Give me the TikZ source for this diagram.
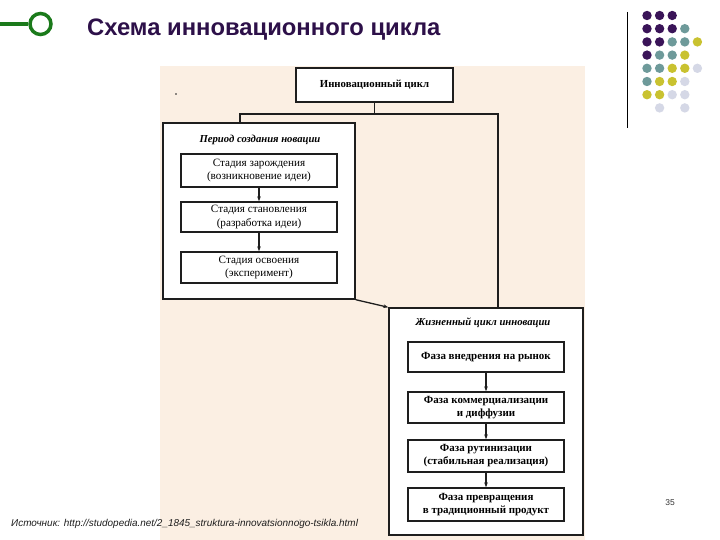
\documentclass[tikz,border=0pt]{standalone}
\usepackage{fontspec}
\setmainfont{Liberation Serif}
\newfontfamily\sansf{Liberation Sans}
\usetikzlibrary{arrows.meta}
\definecolor{beige}{HTML}{FBEFE3}
\definecolor{titlecol}{HTML}{2D1049}
\definecolor{logogreen}{HTML}{1B7A1B}
\definecolor{dotP}{HTML}{3A1458}
\definecolor{dotT}{HTML}{6E9A9A}
\definecolor{dotY}{HTML}{C9C230}
\definecolor{dotL}{HTML}{D5D8E6}
\definecolor{ink}{HTML}{1E1E1E}
\tikzset{
  frame/.style={draw=ink, line width=1.4bp, fill=white, inner sep=0pt},
  stagebox/.style={frame, align=center, minimum width=156bp, font=\fontsize{11.2}{13.5}\selectfont},
  phasebox/.style={frame, align=center, minimum width=156bp, font=\bfseries\fontsize{11}{13}\selectfont},
  boxtitle/.style={font=\bfseries\itshape\fontsize{10.7}{12}\selectfont, inner sep=0pt},
  link/.style={draw=ink, line width=1.3bp},
  flow/.style={link, -{Stealth[length=5bp,width=3.6bp]}},
  dot/.style={inner sep=0pt, minimum size=9.4bp, circle}
}
\begin{document}
\begin{tikzpicture}[x=1bp,y=-1bp]
\useasboundingbox[fill=white] (0,0) rectangle (720,540);
% logo
\coordinate (lg0) at (0,24);
\node[draw=logogreen, line width=3.5bp, circle, minimum size=21bp, inner sep=0pt, fill=white] (logo) at (40.5,24) {};
\draw[draw=logogreen, line width=3.5bp] (lg0) -- (logo.west);
% title
\node[anchor=base west, inner sep=0pt, text=titlecol, font=\sansf\bfseries\fontsize{23.9}{28}\selectfont] (title) at (87,36) {Схема инновационного цикла};
% right vertical rule
\coordinate (r0) at (627,12);
\coordinate (r1) at (627,128);
\draw[line width=1bp, black] (r0) -- (r1);
% dots
\foreach \c/\x/\y in {
  dotP/0/0, dotP/1/0, dotP/2/0,
  dotP/0/1, dotP/1/1, dotP/2/1, dotT/3/1,
  dotP/0/2, dotP/1/2, dotT/2/2, dotT/3/2, dotY/4/2,
  dotP/0/3, dotT/1/3, dotT/2/3, dotY/3/3,
  dotT/0/4, dotT/1/4, dotY/2/4, dotY/3/4, dotL/4/4,
  dotT/0/5, dotY/1/5, dotY/2/5, dotL/3/5,
  dotY/0/6, dotY/1/6, dotL/2/6, dotL/3/6,
  dotL/1/7, dotL/3/7}
  \node[dot, fill=\c] (d\x\y) at ({647+12.6*\x},{15.5+13.2*\y}) {};
% scanned figure background
\fill[beige] (160,66) rectangle (585,540);
\fill[ink] (176,94) circle (0.9bp);
\fill[ink!60] (300,520) circle (0.6bp);
% top box
\node[frame, minimum width=157bp, minimum height=34bp, font=\bfseries\fontsize{10.8}{12}\selectfont] (top) at (374.5,85) {Инновационный цикл};
% left container
\node[frame, minimum width=192bp, minimum height=176bp] (lbox) at (259,211) {};
\node[boxtitle] (ltitle) at (260,140) {Период создания новации};
\node[stagebox, minimum height=33bp] (l1) at (259,170.5) {Стадия зарождения\\(возникновение идеи)};
\node[stagebox, minimum height=30bp] (l2) at (259,217) {Стадия становления\\(разработка идеи)};
\node[stagebox, minimum height=31bp] (l3) at (259,267.5) {Стадия освоения\\(эксперимент)};
% right container
\node[frame, minimum width=194bp, minimum height=227bp] (rbox) at (486,421.5) {};
\node[boxtitle] (rtitle) at (483,323) {Жизненный цикл инновации};
\node[phasebox, minimum height=30bp] (p1) at (486,357) {Фаза внедрения на рынок};
\node[phasebox, minimum height=31bp] (p2) at (486,407.5) {Фаза коммерциализации\\и диффузии};
\node[phasebox, minimum height=32bp] (p3) at (486,456) {Фаза рутинизации\\(стабильная реализация)};
\node[phasebox, minimum height=33bp] (p4) at (486,504.5) {Фаза превращения\\в традиционный продукт};
% tree connectors
\coordinate (jl) at (240,114);
\coordinate (jr) at (498,114);
\draw[link] (top.south) -- (top.south |- jl);
\draw[link] (jl |- lbox.north) -- (jl) -- (jr) -- (jr |- rbox.north);
% flows
\draw[flow] (l1) -- (l2);
\draw[flow] (l2) -- (l3);
\draw[flow] (p1) -- (p2);
\draw[flow] (p2) -- (p3);
\draw[flow] (p3) -- (p4);
\draw[flow] (lbox.south east) -- (rbox.north west);
% page number and source
\node[inner sep=0pt, text=black!80, font=\sansf\fontsize{8.5}{10}\selectfont] (pnum) at (670,503) {35};
\node[anchor=base west, inner sep=0pt, text=ink, font=\sansf\itshape\fontsize{10}{12}\selectfont] (src) at (11,526) {Источник: http://studopedia.net/2\_1845\_struktura-innovatsionnogo-tsikla.html};
\end{tikzpicture}
\end{document}
